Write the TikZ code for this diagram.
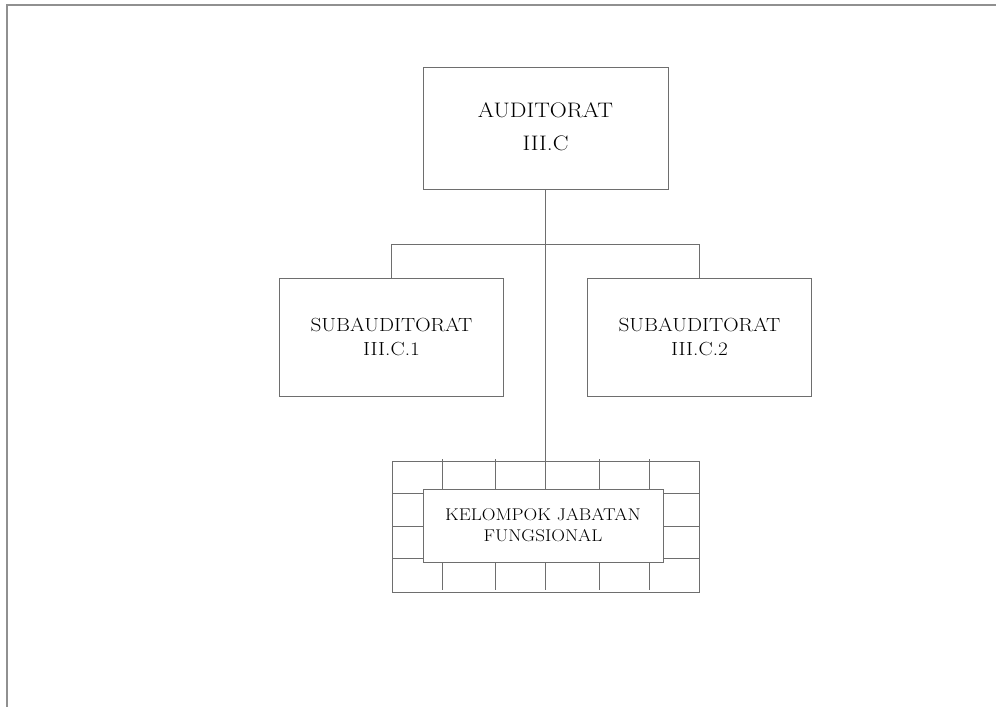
\documentclass[tikz,border=0pt]{standalone}
\usepackage{fontspec}
\setmainfont{Latin Modern Roman}[FakeStretch=1.12]
\usepackage{tikz}
\usetikzlibrary{positioning,calc}
\definecolor{rule}{HTML}{6E6E6E}
\definecolor{edge}{HTML}{909090}

\begin{document}
\begin{tikzpicture}[
  x=1pt,y=-1pt,
  box/.style={draw=rule,fill=white,align=center,inner sep=0pt},
  unit/.style={box,minimum width=224pt,minimum height=118pt,
               font=\fontsize{19}{24}\selectfont},
  link/.style={draw=rule,line width=0.8pt}
]
\useasboundingbox (0,0) rectangle (996,707);
\draw[edge,line width=1.3pt] (996,5) -- (7,5) -- (7,707);

\node[box,minimum width=245pt,minimum height=122pt,
      font=\fontsize{21}{33}\selectfont] (aud) at (545.5,128)
     {\raisebox{3pt}{AUDITORAT}\\\raisebox{3pt}{III.C}};
\node[unit,below=89pt of aud,xshift=-154pt] (sub1) {SUBAUDITORAT\\III.C.1};
\node[unit,below=89pt of aud,xshift=154pt] (sub2) {SUBAUDITORAT\\III.C.2};

% kotak jabatan fungsional
\node[box,minimum width=307pt,minimum height=131pt,below=64pt of sub1.south -| aud.south,
      anchor=north] (grid) {};
\foreach \gx in {442,495,545,599,649}
  \draw[link] (\gx,459) -- (\gx,590);
\foreach \gy in {493,526,558}
  \draw[link] (392,\gy) -- (699,\gy);
\node[box,minimum width=240pt,minimum height=73pt,
      font=\fontsize{17}{21}\selectfont] (fung) at (543,525.5)
     {KELOMPOK JABATAN\\FUNGSIONAL};

\coordinate (bus) at ($(aud.south)+(0,55)$);
\draw[link] (aud.south) -- (grid.north);
\draw[link] (sub1.north) |- (bus) -| (sub2.north);
\end{tikzpicture}
\end{document}
